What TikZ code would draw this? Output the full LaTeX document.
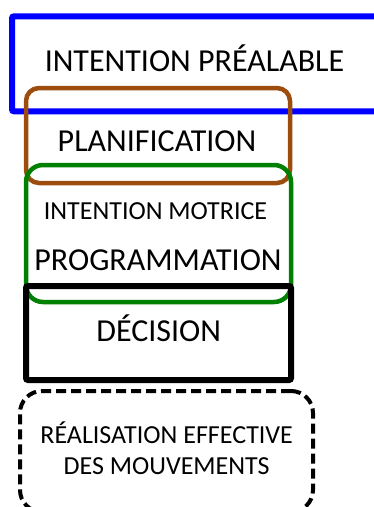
\documentclass[tikz,border=0pt]{standalone}
\usepackage{fontspec}
\setmainfont{Carlito}
\definecolor{bluefr}{RGB}{0,0,255}
\definecolor{brownfr}{RGB}{156,76,12}
\definecolor{greenfr}{RGB}{0,128,0}
\tikzset{
  frame/.style={draw, inner sep=0pt, outer sep=0pt},
  bluebox/.style={frame, draw=bluefr, line width=6pt, rounded corners=2pt},
  brownbox/.style={frame, draw=brownfr, line width=4.5pt, rounded corners=13pt},
  greenbox/.style={frame, draw=greenfr, line width=4.5pt, rounded corners=17pt},
  blackbox/.style={frame, draw=black, line width=6pt, rounded corners=2pt},
  dashbox/.style={frame, draw=black, line width=4pt, rounded corners=22pt, dash pattern=on 10pt off 5pt},
  bigtxt/.style={inner sep=0pt, anchor=base, font=\fontsize{32}{38}\selectfont},
  smalltxt/.style={inner sep=0pt, anchor=base, font=\fontsize{26}{31}\selectfont, align=center},
}
\begin{document}
\begin{tikzpicture}[x=1pt, y=-1pt]
\useasboundingbox (0,0) rectangle (374,507);
\clip (0,0) rectangle (374,507);
\node[bluebox, minimum width=388pt, minimum height=95pt] (pre) at (206,63.8) {};
\node[brownbox, minimum width=264pt, minimum height=95pt] (plan) at (158,135.5) {};
\node[greenbox, minimum width=265pt, minimum height=137pt] (prog) at (158.5,233.5) {};
\node[blackbox, minimum width=265pt, minimum height=94pt] (dec) at (158.5,333) {};
\node[dashbox, minimum width=293pt, minimum height=121pt] (real) at (166.5,451.5) {};
\node[bigtxt] (tpre) at (194.5,71) {INTENTION PRÉALABLE};
\node[bigtxt] (tplan) at (157,151) {PLANIFICATION};
\node[smalltxt] (tmot) at (155.5,219) {INTENTION MOTRICE};
\node[bigtxt] (tprog) at (158,270) {PROGRAMMATION};
\node[bigtxt] (tdec) at (158.7,341) {DÉCISION};
\node[smalltxt] (treal) at (166.7,474) {RÉALISATION EFFECTIVE\\DES MOUVEMENTS};
\end{tikzpicture}
\end{document}
